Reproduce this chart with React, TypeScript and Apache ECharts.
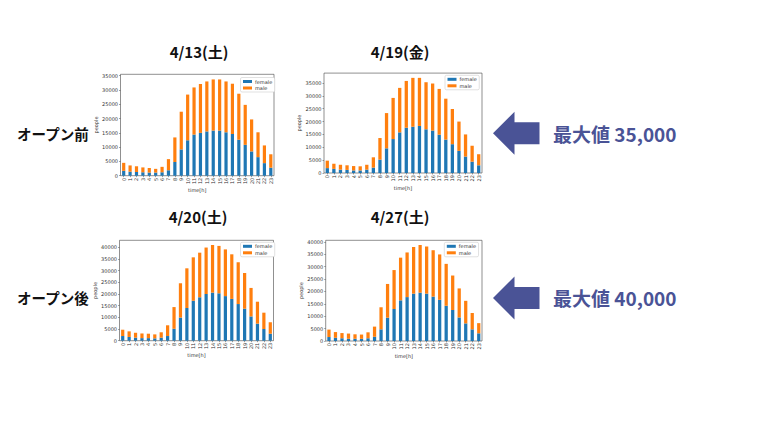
import React, { useEffect, useRef } from "react";
import * as echarts from "echarts";

const hours = ["0","1","2","3","4","5","6","7","8","9","10","11","12","13","14","15","16","17","18","19","20","21","22","23"];
const chartTitles = ["4/13(土)", "4/19(金)", "4/20(土)", "4/27(土)"];
const rowLabels = ["オープン前", "オープン後"];
const peakLabels = ["最大値 35,000", "最大値 40,000"];
const seriesNames = ["female", "male"];

const female1 = [1700,1400,1300,1200,1100,1100,1200,1900,4800,9200,12400,14400,15000,15500,15800,15800,15200,14600,12600,10800,8500,6500,4400,2800];
const male1 = [2800,2200,2000,1700,1600,1300,1900,3900,8600,13200,16000,16500,17100,17500,17900,17900,17800,17600,16100,14000,11200,8700,6200,4700];
const female2 = [1900,1600,1300,1200,1000,1000,1300,2100,5200,9600,13200,15800,17600,18000,18300,17000,16500,14900,13000,11200,8600,6400,4400,3000];
const male2 = [2900,2000,1900,1800,1700,1600,1900,4000,8400,13700,16000,17300,18200,19000,18700,18300,18300,17800,15900,13700,11400,8600,6200,4300];
const female3 = [2000,1600,1300,1100,1100,1000,1300,2000,5100,9900,14000,17100,18600,20000,20600,20300,19100,17900,15700,13700,10400,7300,5000,3000];
const male3 = [2700,2400,2100,2000,1900,1700,2300,4600,9300,14700,17000,18600,19100,19900,20400,20300,20000,19100,17900,15300,12200,9400,7000,4900];
const female4 = [1600,1300,1100,900,900,900,1100,1700,4700,9400,12900,16400,17700,19100,19500,19100,17900,16600,14200,12500,9500,7100,4700,3100];
const male4 = [3000,2300,2100,2100,1800,1700,2400,4100,8900,13600,15700,17200,18000,18800,19200,19000,18700,18300,16900,13900,11700,9100,6600,4100];

const yTicks1 = [0,5000,10000,15000,20000,25000,30000,35000];
const yTicks2 = [0,5000,10000,15000,20000,25000,30000,35000,40000];
const yMaxes = [35500, 38850, 43000, 40600];

const femaleData = [female1, female2, female3, female4];
const maleData = [male1, male2, male3, male4];
const yTickSets = [yTicks1, yTicks1, yTicks2, yTicks2];

const BLUE = "#1f77b4";
const ORANGE = "#ff7f0e";
const ACCENT = "#4a5396";
const JP = "'Noto Sans CJK JP', 'Noto Sans', sans-serif";
const MPL = "'DejaVu Sans', sans-serif";

const grids = [
  { left: 120.5, top: 74.3, width: 153.5, height: 101.4 },
  { left: 324, top: 73.1, width: 158, height: 99.9 },
  { left: 119.5, top: 240.3, width: 154, height: 100.4 },
  { left: 325.7, top: 240.3, width: 156.3, height: 100.7 },
];
const legendPos = [
  { left: 240.5, top: 77.5 },
  { left: 445, top: 75.3 },
  { left: 240.5, top: 242.3 },
  { left: 444.3, top: 242.3 },
];
const titlePos = [
  { x: 199, y: 51 },
  { x: 400, y: 51 },
  { x: 198, y: 216 },
  { x: 400, y: 216 },
];

function arrow(cy: number) {
  return {
    type: "polygon",
    shape: {
      points: [
        [493, cy],
        [514.5, cy - 21.5],
        [514.5, cy - 11],
        [539.5, cy - 11],
        [539.5, cy + 11],
        [514.5, cy + 11],
        [514.5, cy + 21.5],
      ],
    },
    style: { fill: ACCENT },
  };
}

export default function App() {
  const ref = useRef<HTMLDivElement>(null);
  useEffect(() => {
    document.body.style.margin = "0";
    const chart = echarts.init(ref.current!, null, { renderer: "svg" });
    const option: any = {
      animation: false,
      backgroundColor: "#ffffff",
      grid: grids.map((g) => ({
        ...g,
        show: true,
        borderColor: "#444",
        borderWidth: 0.6,
        backgroundColor: "transparent",
        containLabel: false,
      })),
      legend: legendPos.map((p) => ({
        ...p,
        orient: "vertical",
        data: seriesNames,
        icon: "rect",
        itemWidth: 9,
        itemHeight: 3,
        itemGap: 1.5,
        padding: [1.5, 2.5],
        borderColor: "#ccc",
        borderWidth: 0.6,
        borderRadius: 1.5,
        backgroundColor: "#fff",
        selectedMode: false,
        textStyle: { fontSize: 5, color: "#333", fontFamily: MPL, padding: [0, 0, 0, -2] },
      })),
      xAxis: grids.map((_, i) => ({
        type: "category",
        gridIndex: i,
        data: hours,
        name: "time[h]",
        nameLocation: "middle",
        nameGap: 11,
        nameTextStyle: { fontSize: 5, color: "#333", fontFamily: MPL },
        axisLine: { show: false },
        axisTick: { show: true, alignWithLabel: true, length: 1.5, lineStyle: { color: "#444", width: 0.5 } },
        axisLabel: { fontSize: 5, color: "#333", rotate: 90, margin: 2, interval: 0, fontFamily: MPL },
        splitLine: { show: false },
      })),
      yAxis: grids.map((_, i) => ({
        type: "value",
        gridIndex: i,
        min: 0,
        max: yMaxes[i],
        name: "people",
        nameLocation: "middle",
        nameGap: 21,
        nameTextStyle: { fontSize: 5, color: "#333", fontFamily: MPL },
        axisLine: { show: false },
        axisTick: { show: true, length: 1.5, customValues: yTickSets[i], lineStyle: { color: "#444", width: 0.5 } },
        axisLabel: {
          fontSize: 5,
          color: "#333",
          margin: 2.5,
          customValues: yTickSets[i],
          fontFamily: MPL,
          formatter: (v: number) => String(v),
        },
        splitLine: { show: false },
      })),
      series: grids.flatMap((_, i) => [
        {
          type: "bar",
          name: "female",
          stack: "s" + i,
          xAxisIndex: i,
          yAxisIndex: i,
          barWidth: "50%",
          data: femaleData[i],
          itemStyle: { color: BLUE },
        },
        {
          type: "bar",
          name: "male",
          stack: "s" + i,
          xAxisIndex: i,
          yAxisIndex: i,
          barWidth: "50%",
          data: maleData[i],
          itemStyle: { color: ORANGE },
        },
      ]),
      graphic: [
        ...titlePos.map((p, i) => ({
          type: "text",
          x: p.x,
          y: p.y,
          style: {
            text: chartTitles[i],
            fontSize: 15,
            fontWeight: "bold",
            fontFamily: JP,
            fill: "#111",
            textAlign: "center",
            textVerticalAlign: "middle",
          },
        })),
        ...rowLabels.map((t, i) => ({
          type: "text",
          x: 17,
          y: i === 0 ? 133 : 297,
          style: {
            text: t,
            fontSize: 14.5,
            fontWeight: "bold",
            fontFamily: JP,
            fill: "#111",
            textAlign: "left",
            textVerticalAlign: "middle",
          },
        })),
        arrow(133.3),
        arrow(298),
        ...peakLabels.map((t, i) => ({
          type: "text",
          x: 553,
          y: i === 0 ? 133 : 297.5,
          style: {
            text: t,
            fontSize: 19,
            fontWeight: "bold",
            fontFamily: JP,
            fill: ACCENT,
            textAlign: "left",
            textVerticalAlign: "middle",
          },
        })),
      ],
    };
    chart.setOption(option);
    return () => chart.dispose();
  }, []);
  return <div ref={ref} style={{ width: 768, height: 432 }} />;
}
